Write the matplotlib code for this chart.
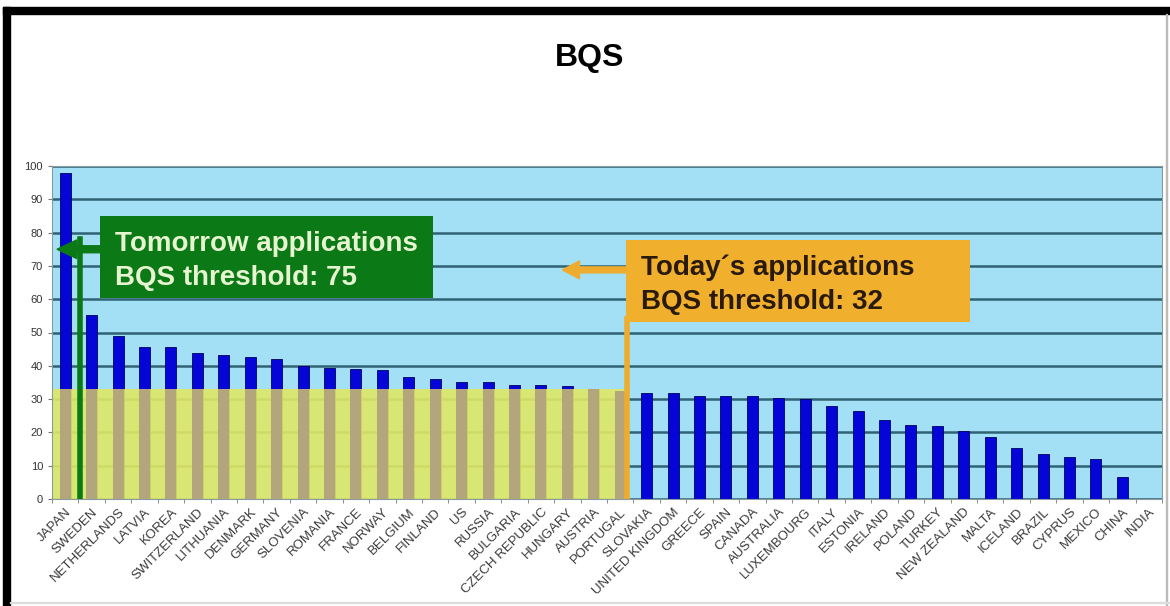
import matplotlib
matplotlib.use("Agg")
import matplotlib.pyplot as plt
from matplotlib.patches import Rectangle, FancyArrow
import numpy as np

plt.rcParams['font.family'] = ['Liberation Sans', 'DejaVu Sans']

# countries and BQS score
countries = ["JAPAN", "SWEDEN", "NETHERLANDS", "LATVIA", "KOREA", "SWITZERLAND",
             "LITHUANIA", "DENMARK", "GERMANY", "SLOVENIA", "ROMANIA", "FRANCE",
             "NORWAY", "BELGIUM", "FINLAND", "US", "RUSSIA", "BULGARIA",
             "CZECH REPUBLIC", "HUNGARY", "AUSTRIA", "PORTUGAL", "SLOVAKIA",
             "UNITED KINGDOM", "GREECE", "SPAIN", "CANADA", "AUSTRALIA",
             "LUXEMBOURG", "ITALY", "ESTONIA", "IRELAND", "POLAND", "TURKEY",
             "NEW ZEALAND", "MALTA", "ICELAND", "BRAZIL", "CYPRUS", "MEXICO",
             "CHINA", "INDIA"]
bqs = [98.0, 55.2, 48.8, 45.7, 45.7, 43.7, 43.2, 42.5, 41.9, 39.9, 39.3, 39.0,
       38.7, 36.7, 35.9, 35.2, 35.0, 34.3, 34.3, 34.0, 32.9, 32.3, 31.9,
       31.9, 30.8, 30.8, 30.8, 30.4, 30.0, 27.8, 26.3, 23.8, 22.1, 21.8,
       20.3, 18.6, 15.2, 13.4, 12.6, 12.0, 6.7, 0.0]

tomorrow_thr = 75
today_thr = 32
yellow_top = 33

x = np.arange(len(countries))

fig = plt.figure(figsize=(11.7, 6.06), dpi=100)
ax = fig.add_axes([52 / 1170, 1 - 499 / 606, 1110 / 1170, 333 / 606])

ax.set_facecolor('#a3e0f6')
ax.set_xlim(-0.5, len(countries) - 0.5)
ax.set_ylim(0, 100)
ax.set_yticks(np.arange(0, 101, 10))
ax.yaxis.grid(True, color='#2f6272', linewidth=1.8, zorder=0.5)
ax.set_axisbelow(True)

# blue bars
ax.bar(x, bqs, width=0.42, color='#0505d8', edgecolor='#000060', linewidth=0.6, zorder=2)

# yellow zone for today's applications
split = 21.26
ax.add_patch(Rectangle((-0.5, 0), split + 0.5, yellow_top, facecolor='#dfe865',
                       alpha=0.9, edgecolor='none', zorder=2.5))
low = [min(v, yellow_top) for v in bqs[:22]]
ax.bar(x[:22], low, width=0.42, color='#b3a67c', edgecolor='none', zorder=2.6)

# ticks
ax.set_xticks(x)
ax.set_xticklabels(countries, rotation=45, ha='right', rotation_mode='anchor',
                   fontsize=9.5, color='#3a3a3a')
ax.set_xticks(np.arange(-0.5, len(countries), 1), minor=True)
ax.tick_params(axis='x', which='major', length=0, pad=5)
ax.tick_params(axis='x', which='minor', length=3, color='#777777')
ax.tick_params(axis='y', length=3, color='#777777', labelsize=8, labelcolor='#333333')
for s in ax.spines.values():
    s.set_color('#8a9aa0')
    s.set_linewidth(0.8)

# green annotation (tomorrow)
ax.plot([0.55, 0.55], [0, 78], color='#0b7a16', linewidth=4, zorder=4)
ax.add_patch(FancyArrow(1.35, tomorrow_thr, -1.66, 0, width=2.1, head_width=5.6,
                        head_length=0.75, length_includes_head=True,
                        color='#0b7a16', zorder=4))
ax.add_patch(Rectangle((1.32, 60.4), 12.6, 24.6, facecolor='#0b7a16',
                       edgecolor='none', zorder=5))
ax.text(1.88, 71.6, "Tomorrow applications\nBQS threshold: %d" % tomorrow_thr,
        fontsize=20, fontweight='bold', color='#e6f4cf', va='center', ha='left',
        linespacing=1.4, zorder=6)

# orange annotation (today)
ax.plot([split, split], [0, 54], color='#eeac2e', linewidth=4, zorder=4)
ax.add_patch(FancyArrow(split, 68.8, -2.45, 0, width=1.8, head_width=5.4,
                        head_length=0.65, length_includes_head=True,
                        color='#eeac2e', zorder=4))
ax.add_patch(Rectangle((21.22, 53.2), 13.0, 24.6, facecolor='#f0b02e',
                       edgecolor='none', zorder=5))
ax.text(21.79, 64.3, "Today\u00b4s applications\nBQS threshold: %d" % today_thr,
        fontsize=20, fontweight='bold', color='#2a1a0c', va='center', ha='left',
        linespacing=1.4, zorder=6)

# title
fig.text(0.504, 1 - 58 / 606, "BQS", ha='center', va='center', fontsize=23,
         fontweight='bold', color='black')

# black frame on top and left, thin grey on right and bottom
fig.patches.append(Rectangle((3 / 1170, 0), 7 / 1170, 1 - 7 / 606, color='black',
                             transform=fig.transFigure, figure=fig))
fig.patches.append(Rectangle((3 / 1170, 1 - 14 / 606), 1, 7 / 606, color='black',
                             transform=fig.transFigure, figure=fig))
fig.patches.append(Rectangle((1166 / 1170, 0), 1 / 1170, 1 - 14 / 606, color='#bbbbbb',
                             transform=fig.transFigure, figure=fig))
fig.patches.append(Rectangle((10 / 1170, 3 / 606), 1, 1 / 606, color='#dddddd',
                             transform=fig.transFigure, figure=fig))

fig.savefig("out.png", dpi=100)
